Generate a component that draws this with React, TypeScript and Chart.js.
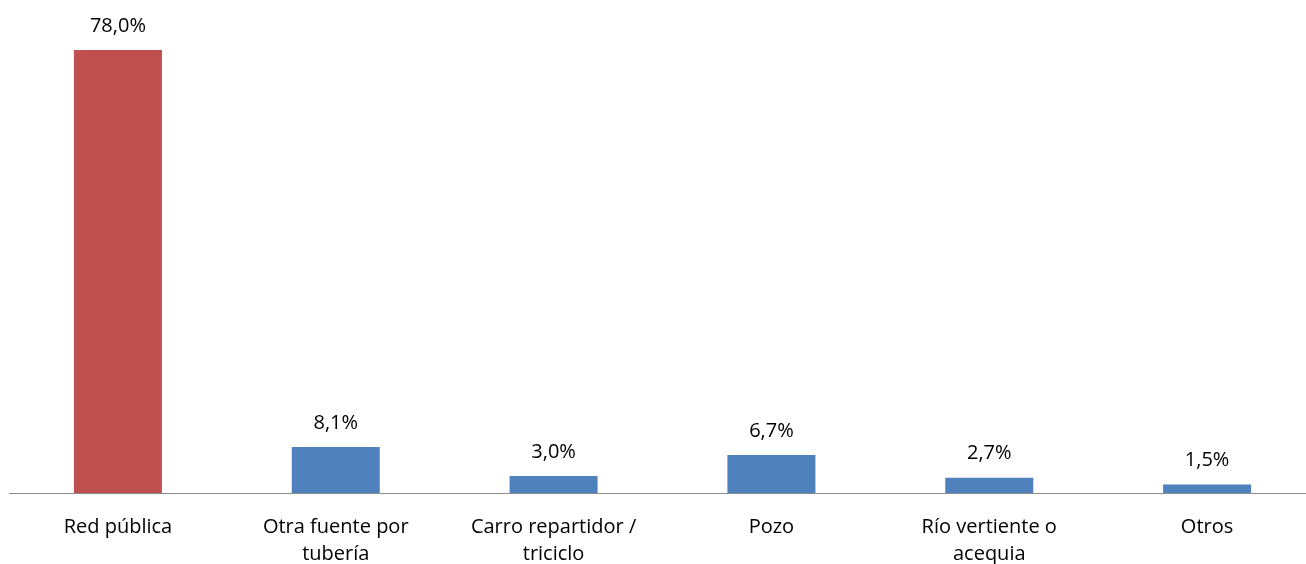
import React, { useEffect, useRef } from "react";
import { Chart, registerables } from "chart.js";

Chart.register(...registerables);

const categories: string[][] = [
  ["Red pública"],
  ["Otra fuente por", "tubería"],
  ["Carro repartidor /", "triciclo"],
  ["Pozo"],
  ["Río vertiente o", "acequia"],
  ["Otros"],
];
const values: number[] = [78.0, 8.1, 3.0, 6.7, 2.7, 1.5];
const colors: string[] = ["#C0504D", "#4F81BD", "#4F81BD", "#4F81BD", "#4F81BD", "#4F81BD"];

const FONT = "'Open Sans', 'Noto Sans', sans-serif";

const valueLabels = {
  id: "valueLabels",
  afterDatasetsDraw(chart: any) {
    const ctx = chart.ctx;
    const meta = chart.getDatasetMeta(0);
    ctx.save();
    ctx.font = `20px ${FONT}`;
    ctx.fillStyle = "#000";
    ctx.textAlign = "center";
    ctx.textBaseline = "middle";
    meta.data.forEach((bar: any, i: number) => {
      const txt = values[i].toFixed(1).replace(".", ",") + "%";
      ctx.fillText(txt, bar.x, bar.y - 24);
    });
    ctx.restore();
  },
};

export default function App() {
  const ref = useRef<HTMLCanvasElement | null>(null);
  useEffect(() => {
    if (!ref.current) return;
    const chart = new Chart(ref.current, {
      type: "bar",
      data: {
        labels: categories,
        datasets: [
          {
            data: values,
            backgroundColor: colors,
            barPercentage: 0.404,
            categoryPercentage: 1,
          },
        ],
      },
      options: {
        animation: false,
        responsive: false,
        maintainAspectRatio: false,
        layout: { padding: { top: 38.6, left: 9, right: 4, bottom: 0 } },
        plugins: { legend: { display: false }, tooltip: { enabled: false } },
        scales: {
          x: {
            grid: { display: false, drawTicks: false },
            border: { color: "#8C8C8C", width: 1 },
            ticks: {
              color: "#000",
              font: { family: FONT, size: 20, lineHeight: 1.35 },
              padding: 20.5,
              maxRotation: 0,
              autoSkip: false,
            },
            afterFit: (scale: any) => {
              scale.height = 71;
            },
          },
          y: {
            display: false,
            min: 0,
            max: 80,
          },
        },
      },
      plugins: [valueLabels],
    });
    return () => chart.destroy();
  }, []);
  return (
    <div
      style={{
        position: "fixed",
        left: 0,
        top: 0,
        width: 1306,
        height: 564,
        overflow: "hidden",
        background: "#fff",
      }}
    >
      <canvas ref={ref} width={1320} height={564} style={{ display: "block" }} />
    </div>
  );
}
